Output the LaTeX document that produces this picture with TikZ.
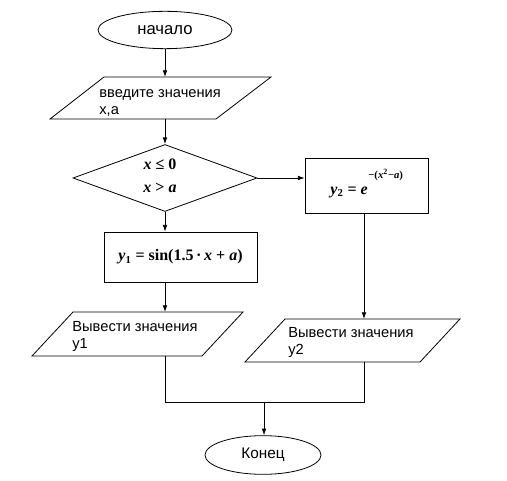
\documentclass[tikz,border=0pt]{standalone}
\usepackage{fontspec}
\setmainfont{Liberation Sans}
\newfontfamily\fm{Liberation Serif}
\usetikzlibrary{shapes.geometric,arrows.meta}
\begin{document}
\begin{tikzpicture}[x=0.75pt,y=-0.75pt, line width=0.6pt,
  arr/.style={-{Latex[length=5pt,width=3.5pt]}},
  lbl/.style={font=\fontsize{11}{12.75}\selectfont, inner sep=0pt, align=left},
  frm/.style={font=\fm\bfseries\fontsize{12}{14}\selectfont, inner sep=0pt},
  expo/.style={font=\fm\bfseries\fontsize{8}{9}\selectfont, inner sep=0pt},
  boxn/.style={draw, rectangle, inner sep=0pt},
  term/.style={draw, ellipse, inner sep=0pt, font=\fontsize{11.5}{13}\selectfont}]
\useasboundingbox (0,0) rectangle (507,481);

% start
\node[term, font=\fontsize{12.5}{14}\selectfont, minimum width=100.5pt, minimum height=28pt] (start) at (165,30) {начало};

% input parallelogram
\coordinate (in-tl) at (104,77);
\coordinate (in-tr) at (271,77);
\coordinate (in-br) at (216,119);
\coordinate (in-bl) at (50,119);
\draw (in-tl) -- (in-tr) -- (in-br) -- (in-bl) -- cycle;
\coordinate (in-top) at (165,77);
\coordinate (in-bot) at (165,119);
\node[lbl, anchor=west] (intext) at (99,103) {введите значения\\x,a};

% decision
\node[draw, diamond, minimum width=138pt, minimum height=50.25pt, inner sep=0pt] (dec) at (165,178) {};
\node[frm] (c1) at (160,164) {\textit{x} ≤ 0};
\node[frm] (c2) at (160,188) {\textit{x} > \textit{a}};

% y2 box
\node[boxn, minimum width=92.25pt, minimum height=41.25pt] (y2box) at (366.5,185.5) {};
\node[frm, anchor=west] (y2f) at (330,192) {\textit{y}\textsubscript{2} = \textit{e}};
\node[expo, anchor=west] (y2e) at (368,175) {−(\textit{x}\textsuperscript{2}−\textit{a})};

% y1 box
\node[boxn, minimum width=114.75pt, minimum height=37.5pt] (y1box) at (180.5,257) {};
\node[frm] (y1f) at (180.5,257) {\textit{y}\textsubscript{1} = sin(1.5\,·\,\textit{x} + \textit{a})};

% output 1
\coordinate (o1-tl) at (73,312);
\coordinate (o1-tr) at (243,312);
\coordinate (o1-br) at (202,356);
\coordinate (o1-bl) at (32,356);
\draw (o1-tl) -- (o1-tr) -- (o1-br) -- (o1-bl) -- cycle;
\coordinate (o1-top) at (165,312);
\coordinate (o1-bot) at (165,356);
\node[lbl, anchor=west] (o1text) at (72,336) {Вывести значения\\y1};

% output 2
\coordinate (o2-tl) at (285,319);
\coordinate (o2-tr) at (460,319);
\coordinate (o2-br) at (420,362);
\coordinate (o2-bl) at (245,362);
\draw (o2-tl) -- (o2-tr) -- (o2-br) -- (o2-bl) -- cycle;
\coordinate (o2-top) at (364,319);
\coordinate (o2-bot) at (364,362);
\node[lbl, anchor=west] (o2text) at (288,342) {Вывести значения\\y2};

% join
\coordinate (j1) at (165,402);
\coordinate (j2) at (364,402);
\coordinate (jm) at (264,402);

% end
\node[term, minimum width=87pt, minimum height=29pt] (stop) at (263,455) {Конец};

% connectors
\draw[arr] (start.south) -- (in-top);
\draw[arr] (in-bot) -- (dec.north);
\draw[arr] (dec.east) -- (dec.east -| y2box.west);
\draw[arr] (dec.south) -- (dec.south |- y1box.north);
\draw[arr] (y1box.south -| o1-top) -- (o1-top);
\draw[arr] (y2box.south -| o2-top) -- (o2-top);
\draw (o1-bot) -- (j1) -- (j2) -- (o2-bot);
\draw[arr] (jm) -- (stop.north -| jm);
\end{tikzpicture}
\end{document}
